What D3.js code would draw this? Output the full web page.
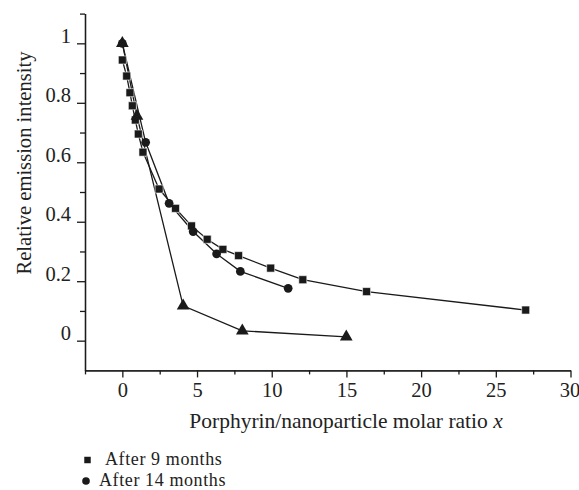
<!DOCTYPE html>
<html>
<head>
<meta charset="utf-8">
<script src="https://cdn.jsdelivr.net/npm/d3@7"></script>
<style>
  body { margin: 0; background: #fff; }
  svg { font-family: 'Liberation Serif', 'DejaVu Serif', serif; }
  .eje path, .eje line { stroke: #1a1a1a; stroke-width: 1.3px; }
  .eje text { font-size: 20.5px; fill: #222; font-family: 'Liberation Serif', serif; }
</style>
</head>
<body>
<div id="graf"></div>
<script>
// I.
x9 = [0, 0.29, 0.51, 0.67, 0.87, 1.07, 1.38, 2.46, 3.56, 4.63, 5.68, 6.73, 7.78, 9.93, 12.08, 16.35, 27.0]
y9 = [0.944, 0.89, 0.834, 0.79, 0.742, 0.695, 0.634, 0.51, 0.445, 0.386, 0.341, 0.307, 0.286, 0.244, 0.205, 0.165, 0.103]

x14 = [0, 1.56, 3.13, 4.74, 6.31, 7.9, 11.1]
y14 = [1.0, 0.667, 0.462, 0.367, 0.292, 0.233, 0.176]

xTri = [0, 0.98, 4.07, 8.03, 14.99]
yTri = [1.0, 0.755, 0.117, 0.033, 0.013]

xMajor = [0, 5, 10, 15, 20, 25, 30]
xMinor = [-2.5, 2.5, 7.5, 12.5, 17.5, 22.5, 27.5]
yMajor = [0, 0.2, 0.4, 0.6, 0.8, 1]
yMinor = [0.1, 0.3, 0.5, 0.7, 0.9, 1.1]

legendLabels = ['After 9 months', 'After 14 months']

// II. Configuracion
ancho_total = 579
alto_total = 490
svg = d3.select('#graf').append('svg')
        .attr('width', ancho_total)
        .attr('height', alto_total)

x = d3.scaleLinear().domain([-2.5, 30]).range([85, 570.5])
y = d3.scaleLinear().domain([-0.1, 1.1]).range([370.4, 13.6])

// ejes: menores sin texto y mayores con texto
svg.append('g').attr('class', 'eje')
   .attr('transform', `translate(0, ${y(-0.1)})`)
   .call(d3.axisBottom(x).tickValues(xMinor).tickSize(4).tickSizeOuter(0).tickFormat(''))
xEje = svg.append('g').attr('class', 'eje')
   .attr('transform', `translate(0, ${y(-0.1)})`)
   .call(d3.axisBottom(x).tickValues(xMajor).tickSize(7).tickSizeOuter(0).tickPadding(4).tickFormat(d => d))
xEje.selectAll('text').attr('dy', '0.74em')
// el 30 queda pegado al borde derecho
xEje.selectAll('text').filter(d => d == 30).attr('dx', '-1px')

svg.append('g').attr('class', 'eje')
   .attr('transform', `translate(${x(-2.5)}, 0)`)
   .call(d3.axisLeft(y).tickValues(yMinor).tickSize(5).tickSizeOuter(0).tickFormat(''))
yEje = svg.append('g').attr('class', 'eje')
   .attr('transform', `translate(${x(-2.5)}, 0)`)
   .call(d3.axisLeft(y).tickValues(yMajor).tickSize(8).tickSizeOuter(0).tickPadding(6).tickFormat(d => +d.toFixed(1)))
// las etiquetas de y quedan apoyadas sobre la marca
yEje.selectAll('text').attr('dy', '-0.05em')

// titulos
svg.append('text')
   .attr('x', 346).attr('y', 428)
   .attr('text-anchor', 'middle')
   .style('font-size', '21.5px').style('fill', '#222')
   .html('Porphyrin/nanoparticle molar ratio <tspan font-style="italic">x</tspan>')

svg.append('text')
   .attr('transform', 'translate(31, 163) rotate(-90)')
   .attr('text-anchor', 'middle')
   .style('font-size', '20.6px').style('fill', '#222')
   .text('Relative emission intensity')

// III. Lineas
linea = d3.line().x(d => x(d[0])).y(d => y(d[1]))
series = [
  { xs: x9, ys: y9, marca: 'cuadro' },
  { xs: x14, ys: y14, marca: 'circulo' },
  { xs: xTri, ys: yTri, marca: 'triangulo' }
]
series.forEach(s => {
  s.pts = s.xs.map((v, i) => [v, s.ys[i]])
  svg.append('path')
     .datum(s.pts)
     .attr('d', linea)
     .attr('fill', 'none')
     .attr('stroke', '#1a1a1a')
     .attr('stroke-width', 1.3)
})

simbolos = {
  cuadro: d3.symbol().type(d3.symbolSquare).size(64),
  circulo: d3.symbol().type(d3.symbolCircle).size(60),
  triangulo: d3.symbol().type(d3.symbolTriangle).size(70)
}
series.forEach(s => {
  svg.append('g').selectAll('path')
     .data(s.pts)
     .enter().append('path')
       .attr('d', simbolos[s.marca])
       .attr('transform', d => `translate(${x(d[0])}, ${y(d[1])})`)
       .attr('fill', '#1a1a1a')
       .attr('stroke', s.marca == 'cuadro' ? '#fff' : 'none')
       .attr('stroke-width', 0.6)
})

// IV. Leyenda (renglones muy juntos, como en la figura)
leyenda = svg.append('g')
leyenda.append('path')
       .attr('d', d3.symbol().type(d3.symbolSquare).size(42)())
       .attr('transform', 'translate(87.5, 460)')
       .attr('fill', '#1a1a1a')
leyenda.append('path')
       .attr('d', d3.symbol().type(d3.symbolCircle).size(46)())
       .attr('transform', 'translate(86, 481)')
       .attr('fill', '#1a1a1a')
leyenda.selectAll('text')
       .data(legendLabels)
       .enter().append('text')
         .attr('x', (d, i) => i == 0 ? 105 : 99)
         .attr('y', (d, i) => i == 0 ? 465 : 486)
         .style('font-size', '18px').style('fill', '#222')
         .style('letter-spacing', '0.6px')
         .text(d => d)
</script>
</body>
</html>
